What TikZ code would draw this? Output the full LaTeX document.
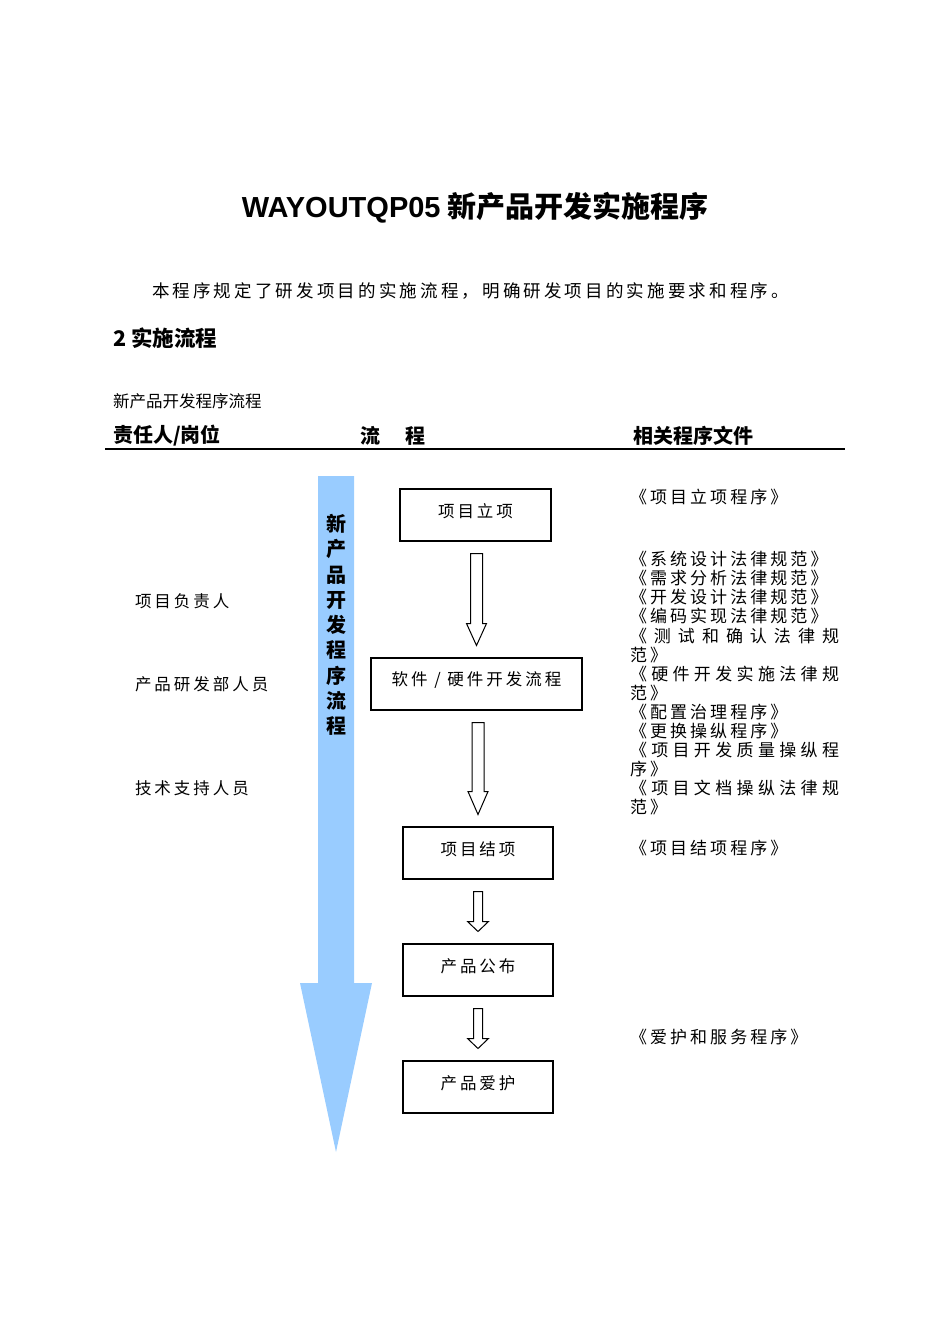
\documentclass[tikz,border=0pt]{standalone}
\usepackage{fontspec}
\usetikzlibrary{calc}
\setmainfont{Noto Sans CJK SC}
\newfontfamily\cjksp[LetterSpace=18]{Noto Sans CJK SC}
\newfontfamily\latinf{Liberation Sans}
\definecolor{arrowblue}{HTML}{99CCFF}
\newcommand\fs[1]{\fontsize{#1}{#1}\selectfont}
\newcommand\up[1]{\raisebox{4pt}[\height][\depth]{#1}}
\newcommand\blockarrow[5]{%
\draw[blockline] let \p1=(#1.south), \p2=(#2.north) in
 ({\x2-#3pt},{\y1-12.5pt}) -- ({\x2+#3pt},{\y1-12.5pt}) -- ({\x2+#3pt},{\y2+12.5pt+#5pt})
 -- ({\x2+#4pt},{\y2+12.5pt+#5pt}) -- (\x2,{\y2+12.5pt}) -- ({\x2-#4pt},{\y2+12.5pt+#5pt})
 -- ({\x2-#3pt},{\y2+12.5pt+#5pt}) -- cycle;}
\begin{document}
\begin{tikzpicture}[x=1pt,y=-1pt,
  every node/.style={inner sep=0pt,outer sep=0pt},
  box/.style={draw=black,line width=1.2pt,fill=white,minimum height=52pt,font=\cjksp\fs{16.5}},
  blockline/.style={draw=black,line width=1pt,fill=white,line join=miter},
  doc/.style={anchor=west,font=\cjksp\fs{17}},
  label/.style={anchor=west,font=\cjksp\fs{16.5}},
  head/.style={anchor=west,font=\fs{20}\bfseries}]
\useasboundingbox (0,0) rectangle (950,1344);
% title and intro
\node[font=\fs{29}\bfseries] (title) at (475,208) {{\latinf\bfseries WAYOUTQP05} 新产品开发实施程序};
\node[anchor=west,font=\cjksp\fs{17.5}] (intro) at (152,291) {本程序规定了研发项目的实施流程，明确研发项目的实施要求和程序。};
\node[anchor=west,font=\fs{21.5}\bfseries] (sec) at (113,338) {2 实施流程};
\node[anchor=west,font=\fs{16.5}] (cap) at (113,401) {新产品开发程序流程};
% header
\node[head] (h1) at (113,436) {责任人/岗位};
\node[head,anchor=center] (h2a) at (370,436) {流};
\node[head,anchor=center] (h2b) at (415,436) {程};
\node[head] (h3) at (633,436) {相关程序文件};
\draw[line width=1.2pt] (105,449) coordinate (rl) -- (845,449) coordinate (rr);
% big blue arrow
\fill[arrowblue] (318,476) -- (354,476) -- (354,983) -- (372,983) -- (336,1152) -- (300,983) -- (318,983) -- cycle;
\node[font=\fontsize{20}{25.25}\selectfont\bfseries,align=center] (vt) at (336,625)
  {新\\产\\品\\开\\发\\程\\序\\流\\程};
% boxes
\node[box,minimum width=151pt] (b1) at (475.5,515) {\up{项目立项}};
\node[box,minimum width=211pt] (b2) at (476.5,684) {\up{软件 / 硬件开发流程}};
\node[box,minimum width=150pt] (b3) at (478,853) {\up{项目结项}};
\node[box,minimum width=150pt] (b4) at (478,970) {\up{产品公布}};
\node[box,minimum width=150pt] (b5) at (478,1087) {\up{产品爱护}};
% block arrows
\blockarrow{b1}{b2}{6}{10}{22}
\blockarrow{b2}{b3}{6}{10}{23}
\blockarrow{b3}{b4}{4.5}{10.5}{10}
\blockarrow{b4}{b5}{4.5}{10.5}{10}
% left labels
\node[label] (l1) at (135,601) {项目负责人};
\node[label] (l2) at (135,684) {产品研发部人员};
\node[label] (l3) at (135,788) {技术支持人员};
% right documents
\node[doc] (d1) at (630,497) {《项目立项程序》};
\node[doc] (d2) at (630,559) {《系统设计法律规范》};
\node[doc] (d3) at (630,578) {《需求分析法律规范》};
\node[doc] (d4) at (630,597) {《开发设计法律规范》};
\node[doc] (d5) at (630,616) {《编码实现法律规范》};
\node[doc,font=\fs{17}] (d6) at (630,636) {\makebox[209pt][s]{《\hfill 测\hfill 试\hfill 和\hfill 确\hfill 认\hfill 法\hfill 律\hfill 规}};
\node[doc] (d7) at (630,655) {范》};
\node[doc,font=\fs{17}] (d8) at (630,674) {\makebox[209pt][s]{《\hfill 硬\hfill 件\hfill 开\hfill 发\hfill 实\hfill 施\hfill 法\hfill 律\hfill 规}};
\node[doc] (d9) at (630,693) {范》};
\node[doc] (d10) at (630,712) {《配置治理程序》};
\node[doc] (d11) at (630,731) {《更换操纵程序》};
\node[doc,font=\fs{17}] (d12) at (630,750) {\makebox[209pt][s]{《\hfill 项\hfill 目\hfill 开\hfill 发\hfill 质\hfill 量\hfill 操\hfill 纵\hfill 程}};
\node[doc] (d13) at (630,769) {序》};
\node[doc,font=\fs{17}] (d14) at (630,788) {\makebox[209pt][s]{《\hfill 项\hfill 目\hfill 文\hfill 档\hfill 操\hfill 纵\hfill 法\hfill 律\hfill 规}};
\node[doc] (d15) at (630,807) {范》};
\node[doc] (d16) at (630,848) {《项目结项程序》};
\node[doc] (d17) at (630,1037) {《爱护和服务程序》};
\end{tikzpicture}
\end{document}
